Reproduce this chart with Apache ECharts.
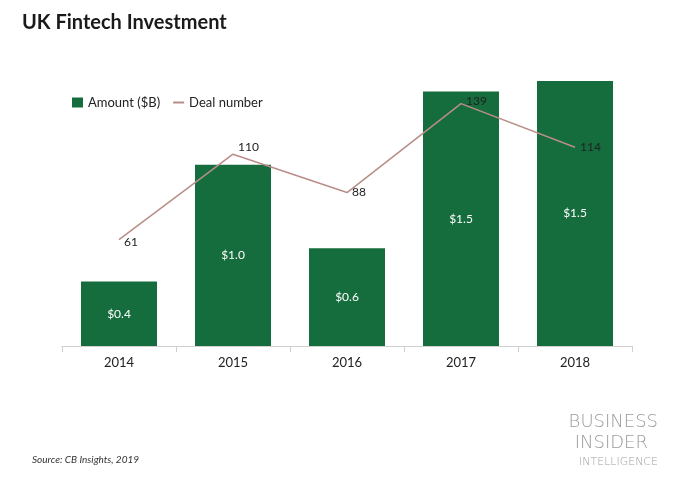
<!DOCTYPE html>
<html>
<head>
<meta charset="utf-8">
<script src="https://cdn.jsdelivr.net/npm/echarts@6/dist/echarts.min.js"></script>
<style>
  html, body { margin: 0; padding: 0; background: #fff; }
  #chart { width: 678px; height: 481px; }
</style>
</head>
<body>
<div id="chart"></div>
<script>
const years = ['2014', '2015', '2016', '2017', '2018']
const amount = [0.37, 1.04, 0.56, 1.46, 1.52] // $B
const deals = [61, 110, 88, 139, 114]

// label nudges for the deal-number line (style only)
const dealLabelOffset = [[0, 2], [0, -7], [0, 0], [0, -2], [0, 0]]

const chart = echarts.init(document.getElementById('chart'))
const option = {
  backgroundColor: '#fff',
  animation: false,
  textStyle: { fontFamily: 'Lato' },
  title: {
    text: 'UK Fintech Investment',
    left: 17,
    top: 8,
    textStyle: { fontSize: 20, fontWeight: 'bold', color: '#1a1a1a', fontFamily: 'Lato' }
  },
  legend: {
    left: 67,
    top: 91,
    itemWidth: 11,
    itemHeight: 10,
    itemGap: 12,
    textStyle: { fontSize: 13, color: '#222' },
    data: [
      { name: 'Amount ($B)', icon: 'rect' },
      { name: 'Deal number', itemStyle: { opacity: 0 } }
    ]
  },
  grid: { left: 62, right: 46, top: 67, bottom: 135 },
  xAxis: {
    type: 'category',
    data: years,
    axisLine: { lineStyle: { color: '#d0d0d0' } },
    axisTick: { show: true, length: 6, lineStyle: { color: '#d0d0d0' } },
    axisLabel: { fontSize: 13, color: '#222', margin: 10 }
  },
  yAxis: [
    { type: 'value', min: 0, max: 1.6, show: false, splitLine: { show: false } },
    { type: 'value', min: 0, max: 160, show: false, splitLine: { show: false } }
  ],
  series: [
    {
      name: 'Amount ($B)',
      type: 'bar',
      data: amount,
      barWidth: 76,
      itemStyle: { color: '#156c3c' },
      label: {
        show: true,
        position: 'inside',
        color: '#fff',
        fontSize: 12,
        formatter: p => '$' + p.value.toFixed(1)
      }
    },
    {
      name: 'Deal number',
      type: 'line',
      yAxisIndex: 1,
      data: deals.map((v, i) => ({ value: v, label: { offset: dealLabelOffset[i] } })),
      symbol: 'circle',
      symbolSize: 0.1,
      lineStyle: { color: '#b98d88', width: 1.5 },
      itemStyle: { color: '#b98d88' },
      label: {
        show: true,
        position: 'right',
        distance: 5,
        color: '#222',
        fontSize: 12
      }
    }
  ],
  graphic: [
    {
      type: 'text', left: 32, top: 455,
      style: { text: 'Source: CB Insights, 2019', fontSize: 10, fontStyle: 'italic', fill: '#333', fontFamily: 'Lato' }
    },
    {
      type: 'text', right: 20, top: 413,
      style: { text: 'BUSINESS', fontSize: 18, fontWeight: 200, fill: '#9a9a9a', fontFamily: 'DejaVu Sans' }
    },
    {
      type: 'text', right: 30, top: 434,
      style: { text: 'INSIDER', fontSize: 18, fontWeight: 200, fill: '#9a9a9a', fontFamily: 'DejaVu Sans' }
    },
    {
      type: 'text', right: 20, top: 457,
      style: { text: 'INTELLIGENCE', fontSize: 11, fontWeight: 200, fill: '#a0a0a0', fontFamily: 'DejaVu Sans' }
    }
  ]
}
chart.setOption(option)
</script>
</body>
</html>
